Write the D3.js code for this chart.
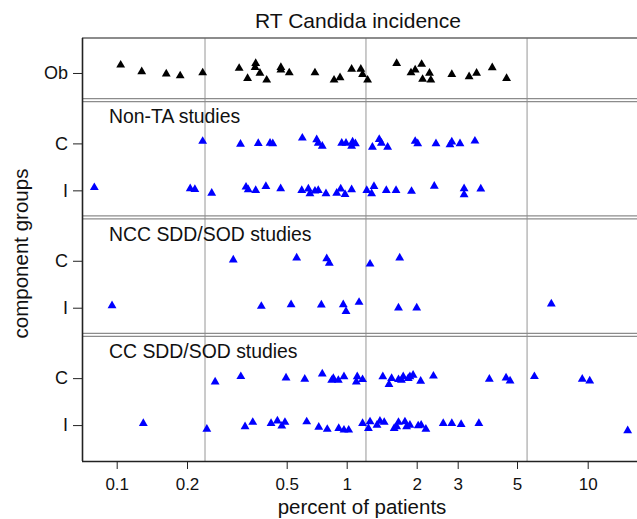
<!DOCTYPE html>
<html><head><meta charset="utf-8">
<script src="https://cdn.jsdelivr.net/npm/d3@7"></script>
<style>
body{margin:0;background:#fff}
svg{display:block}
text{font-family:"Liberation Sans",Arial,Helvetica,sans-serif;fill:#111}
</style>
</head><body>
<svg id="chart" width="637" height="519"></svg>
<script>
// ---- data (percent of patients; jitter in row units) ----
const chartTitle = "RT Candida incidence";
const xTitle = "percent of patients";
const yTitle = "component groups";
const xTickValues = [0.1, 0.2, 0.5, 1, 2, 3, 5, 10];
const xTickLabels = ["0.1", "0.2", "0.5", "1", "2", "3", "5", "10"];
const gridValues = [0.236, 1.21, 5.52];

const groupNames = [null, "Non-TA studies", "NCC SDD/SOD studies", "CC SDD/SOD studies"];
const groupRows = [["Ob"], ["C", "I"], ["C", "I"], ["C", "I"]];

const obPct = [0.104,0.128,0.163,0.187,0.231,0.323,0.349,0.376,0.374,0.391,0.416,0.474,0.474,0.515,0.693,0.864,0.926,1.05,1.15,1.17,1.23,1.64,1.89,1.97,2.10,2.27,2.12,2.30,2.83,3.31,3.53,4.04,4.57];
const obJit = [-0.34,-0.06,0.04,0.12,-0.01,-0.20,0.23,-0.41,-0.24,0.01,0.30,-0.24,-0.13,-0.01,-0.01,0.30,0.20,-0.16,-0.16,0.06,0.30,-0.41,-0.01,-0.13,-0.37,0.01,0.27,0.30,0.06,0.16,0.01,-0.23,0.23];

const nonTaC = [0.231,0.327,0.385,0.429,0.440,0.599,0.707,0.720,0.754,0.944,0.992,1.06,1.09,1.05,1.29,1.38,1.41,1.50,1.97,2.02,2.42,2.78,2.83,3.06,3.48];
const nonTaCJit = [-0.09,0.03,0,-0.01,0.01,-0.23,-0.16,-0.01,0.12,-0.01,-0.01,-0.06,0.01,0.12,0.16,-0.17,-0.01,0.16,-0.09,0.01,0.01,0.06,-0.06,0.01,-0.10];
const nonTaI = [0.0802,0.206,0.215,0.251,0.344,0.351,0.376,0.413,0.473,0.595,0.642,0.654,0.693,0.720,0.787,0.891,0.933,0.981,1.05,1.22,1.28,1.31,1.48,1.63,1.90,2.38,3.17,3.17,3.66];
const nonTaIJit = [-0.12,-0.07,-0.04,0.12,-0.14,-0.03,0,-0.17,-0.07,0,-0.06,0.14,0.03,0,0.14,0.12,-0.06,0.17,-0.03,0,0.14,-0.17,0,0,0.04,-0.18,-0.07,0.18,-0.06];

const nccC = [0.306,0.561,0.794,0.818,1.26,1.69];
const nccCJit = [-0.04,-0.12,-0.09,0.10,0.14,-0.12];
const nccI = [0.0955,0.396,0.526,0.746,0.961,0.992,1.13,1.67,2.00,7.00];
const nccIJit = [-0.09,-0.06,-0.13,-0.12,-0.13,0.16,-0.23,0.01,0.01,-0.16];

const ccC = [0.259,0.328,0.497,0.616,0.754,0.841,0.857,0.908,0.969,1.11,1.10,1.17,1.43,1.56,1.52,1.67,1.72,1.75,1.84,1.87,1.93,2.08,2.36,3.94,4.55,4.71,5.93,9.48,10.2];
const ccCJit = [0.16,-0.07,-0.01,0.04,-0.18,0.09,0.01,0.09,-0.06,-0.06,0.16,0.06,-0.06,0.01,0.27,0.06,0.09,-0.06,0.01,-0.06,-0.13,0.13,-0.09,0.04,-0.01,0.12,-0.07,0.04,0.12];
const ccI = [0.130,0.240,0.341,0.366,0.433,0.459,0.478,0.492,0.630,0.724,0.799,0.912,0.969,1.02,1.17,1.24,1.26,1.35,1.39,1.45,1.60,1.64,1.67,1.78,1.81,1.87,2.03,2.09,2.19,2.60,2.83,3.09,3.60,14.8];
const ccIJit = [-0.07,0.17,0.07,-0.12,-0.07,-0.18,0.04,-0.12,-0.14,0.09,0.18,0.14,0.21,0.21,-0.07,0.14,-0.14,0,-0.17,-0.12,0.14,0.07,-0.12,-0.14,0.07,0,0.03,0,0.17,-0.07,-0.07,-0.03,-0.07,0.24];

const seriesValues = [[obPct], [nonTaC, nonTaI], [nccC, nccI], [ccC, ccI]];
const seriesJitter = [[obJit], [nonTaCJit, nonTaIJit], [nccCJit, nccIJit], [ccCJit, ccIJit]];
const groupColors = ["#000000", "#0000ff", "#0000ff", "#0000ff"];

// ---- layout ----
const svg = d3.select("#chart");
const L = 82, R = 641, T = 38, B = 461;

// slot positions: rows within a group 2 apart, groups 3 apart
const rows = [];
let slot = 0;
groupRows.forEach((g, gi) => {
  g.forEach((r, ri) => {
    rows.push({group: gi, row: ri, label: r, slot: slot});
    if (ri < g.length - 1) slot += 2;
  });
  slot += 3;
});
const lastSlot = rows[rows.length - 1].slot;

const x = d3.scaleLog()
  .domain(xTickValues)
  .range([116.7, 187, 286.7, 346.7, 416.7, 457.7, 517, 587.7]);
const y = d3.scaleLinear().domain([-1.49, lastSlot + 1.53]).range([T, B]);

// gridlines
svg.append("g").selectAll("line").data(gridValues).join("line")
  .attr("x1", d => x(d)).attr("x2", d => x(d))
  .attr("y1", T).attr("y2", B)
  .attr("stroke", "#b4b4b4").attr("stroke-width", 1.4);

// group separators (double lines)
const sepSlots = [];
groupRows.forEach((g, gi) => {
  if (gi < groupRows.length - 1) {
    const lastRow = rows.filter(r => r.group === gi).pop();
    sepSlots.push(lastRow.slot + 1.09);
  }
});
sepSlots.forEach(s => {
  [0, 3].forEach(off => {
    svg.append("line")
      .attr("x1", L).attr("x2", R)
      .attr("y1", y(s) + off).attr("y2", y(s) + off)
      .attr("stroke", "#8c8c8c").attr("stroke-width", 1.2);
  });
});

// top frame line
svg.append("line").attr("x1", L).attr("x2", R).attr("y1", T).attr("y2", T)
  .attr("stroke", "#666").attr("stroke-width", 1.4);

// group labels
rows.filter(r => r.row === 0 && groupNames[r.group]).forEach(r => {
  svg.append("text")
    .attr("x", 109).attr("y", y(r.slot) - 20)
    .attr("font-size", 19.4)
    .text(groupNames[r.group]);
});

// points
const tri = d3.symbol().type(d3.symbolTriangle).size(34);
rows.forEach(r => {
  const vals = seriesValues[r.group][r.row];
  const jit = seriesJitter[r.group][r.row];
  svg.append("g").selectAll("path").data(vals.map((v, i) => ({v, j: jit[i]}))).join("path")
    .attr("d", tri)
    .attr("transform", d => `translate(${x(d.v)},${y(r.slot + d.j)})`)
    .attr("fill", groupColors[r.group]);
});

// axes
const xAxis = d3.axisBottom(x).tickValues(xTickValues)
  .tickFormat((d, i) => xTickLabels[i]).tickSize(8).tickPadding(9).tickSizeOuter(0);
const gx = svg.append("g").attr("transform", `translate(0,${B})`).call(xAxis);
gx.select(".domain").attr("d", `M${L},0.5H${R}`).attr("stroke", "#222").attr("stroke-width", 1.6);
gx.selectAll(".tick line").attr("stroke", "#222");
gx.selectAll("text").attr("font-size", 17).attr("font-family", "Liberation Sans, Arial, sans-serif").attr("fill", "#111");

const yAxis = d3.axisLeft(y).tickValues(rows.map(r => r.slot))
  .tickFormat((d, i) => rows[i].label).tickSize(9).tickPadding(5).tickSizeOuter(0);
const gy = svg.append("g").attr("transform", `translate(${L},0)`).call(yAxis);
gy.select(".domain").attr("d", `M0.5,${T}V${B}`).attr("stroke", "#222").attr("stroke-width", 1.6);
gy.selectAll(".tick line").attr("stroke", "#222");
gy.selectAll("text").attr("font-size", 18).attr("font-family", "Liberation Sans, Arial, sans-serif").attr("fill", "#111");

// titles
svg.append("text").attr("x", 358).attr("y", 28).attr("text-anchor", "middle")
  .attr("font-size", 21).text(chartTitle);
svg.append("text").attr("x", 362).attr("y", 514).attr("text-anchor", "middle")
  .attr("font-size", 20.5).text(xTitle);
svg.append("text").attr("transform", `translate(28,${(T + B) / 2 + 4}) rotate(-90)`)
  .attr("text-anchor", "middle").attr("font-size", 20.5).text(yTitle);
</script>
</body></html>
